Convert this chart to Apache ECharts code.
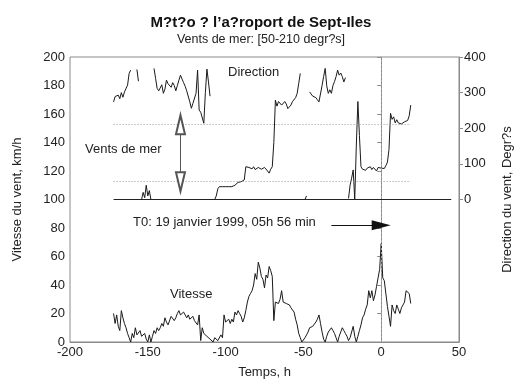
<!DOCTYPE html>
<html>
<head>
<meta charset="utf-8">
<script src="https://cdn.jsdelivr.net/npm/echarts@6/dist/echarts.min.js"></script>
<style>
  html, body { margin: 0; padding: 0; background: #fff; }
  #main { width: 522px; height: 387px; }
</style>
</head>
<body>
<div id="main"></div>
<script>
// heures relatives a T0, un point par heure de -172 h a +19 h
var startHour = -172;

// vitesse du vent, km/h
var speed = [
  20, 13, 19, 11, 8, 22, 17, 13, 10, 6,
  3, 0, 6, 3, 10, 5, 6, 8, 4, 5,
  6, 2, 0, 5, 0, 4, 8, 6, 10, 8,
  10, 13, 11, 17, 14, 12, 13, 18, 19, 15,
  17, 20, 22, 19, 18, 21, 20, 17, 19, 16,
  17, 18, 15, 14, 12, 19, 1, 10, 6, 7,
  4, 5, 2, 3, 0, 3, 4, 1, 2, 5,
  3, 19, 14, 15, 16, 13, 16, 14, 21, 19,
  22, 20, 18, 14, 17, 22, 28, 32, 34, 36,
  40, 48, 44, 56, 52, 46, 44, 38, 47, 45,
  53, 50, 46, 15, 28, 27, 27, 30, 36, 28,
  29, 27, 27, 26, 24, 23, 21, 16, 12, 6,
  3, 0, 1, 3, 5, 7, 10, 9, 11, 12,
  14, 16, 19, 13, 7, 2, 0, 4, 7, 8,
  10, 8, 6, 3, 0, 4, 7, 10, 8, 6,
  4, 1, 3, 7, 11, 4, 0, 4, 8, 12,
  17, 19, 23, 26, 36, 31, 36, 29, 33, 39,
  45, 51, 69, 45, 43, 42, 25, 18, 11, 26,
  22, 20, 26, 23, 20, 24, 24, 28, 36, 37,
  34, 27
];

// direction du vent, degres (null = trou dans la courbe)
var direction = [
  274, 289, 285, 293, 283, 300, 287, 302, 307, 321,
  354, 363, null, null, null, 365, 332, null, 0, 20,
  5, 40, 10, 25, 0, null, 368, 340, 312, 305,
  300, 322, 298, 310, 335, 325, 320, 315, 328, 320,
  305, 320, 335, 349, 338, 328, 318, 305, 300, 274,
  256, 270, 265, 298, 363, 251, 245, 242, 214, 300,
  366, 330, 290, null, null, 0, 10, 30, 36, 36,
  36, 36, 36, 36, 36, 36, 36, 36, 40, 45,
  48, 50, 50, 52, 55, 92, 88, 90, 92, 86,
  92, 84, 83, 90, 92, 85, 83, 90, 88, 80,
  74, 85, 92, 160, 279, 262, 275, 270, 265, 270,
  275, 268, 255, 251, 265, 275, 280, 286, 298, 326,
  354, null, null, 0, 10, null, 302, 296, 290, 288,
  286, 280, 274, 278, 320, 345, 368, 319, 298, 308,
  298, 320, 331, 345, 363, 349, 355, 345, 330, 342,
  null, 3, 40, 60, 83, 0, 150, 275, 180, 92,
  85, 90, 82, 88, 85, 92, 84, 90, 88, 80,
  90, 85, 88, 92, 87, 95, 105, 140, 242, 225,
  232, 215, 224, 215, 215, 212, 208, 218, 215, 222,
  235, 265
];

var seaWind = [50, 210];          // bornes des vents de mer, degres
var dirTicks = [0, 100, 200, 300, 400];
var t0Speed = 82;                 // hauteur de la fleche T0
var arrowHour = -129;             // position de la double fleche

var speedData = [], dirData = [];
for (var i = 0; i < speed.length; i++) {
  speedData.push([startHour + i, speed[i]]);
  dirData.push([startHour + i, direction[i]]);
}
var lastHour = startHour + speed.length - 1;

var font = 'Liberation Sans';
var axisGrey = '#8a8a8a';
var lineCol = '#1a1a1a';
var dots = { color: '#9a9a9a', type: [1, 2], width: 1 };

var myChart = echarts.init(document.getElementById('main'));
var option = {
  animation: false,
  textStyle: { fontFamily: font },
  title: {
    text: 'M?t?o ? l\u2019a?roport de Sept-Iles',
    subtext: 'Vents de mer: [50-210 degr?s]',
    left: 'center',
    top: 10,
    itemGap: 3,
    textStyle: { fontFamily: font, fontSize: 15, fontWeight: 'bold', color: '#111' },
    subtextStyle: { fontFamily: font, fontSize: 12.5, color: '#222' }
  },
  grid: {
    left: 70, right: 62, top: 57, bottom: 45,
    show: true, borderColor: axisGrey, borderWidth: 1
  },
  xAxis: {
    type: 'value',
    min: -200, max: 50, interval: 50,
    name: 'Temps, h',
    nameLocation: 'middle',
    nameGap: 24,
    nameTextStyle: { fontSize: 13, color: '#222' },
    axisLine: { lineStyle: { color: axisGrey } },
    axisTick: { show: false },
    axisLabel: { fontSize: 13, color: '#222', margin: 4 },
    splitLine: { show: false }
  },
  yAxis: [{
    type: 'value',
    min: 0, max: 200, interval: 20,
    name: 'Vitesse du vent, km/h',
    nameLocation: 'middle',
    nameGap: 46,
    nameTextStyle: { fontSize: 13, color: '#222' },
    axisLine: { show: true, lineStyle: { color: axisGrey } },
    axisTick: { show: true, length: 4, lineStyle: { color: axisGrey } },
    axisLabel: { fontSize: 13, color: '#222', margin: 5 },
    splitLine: { show: false }
  }, {
    type: 'value',
    position: 'right',
    min: -400, max: 400, interval: 100,
    name: 'Direction du vent, Degr?s',
    nameLocation: 'middle',
    nameGap: 42,
    nameRotate: 90,
    nameTextStyle: { fontSize: 13, color: '#222' },
    axisLine: { show: true, lineStyle: { color: axisGrey } },
    axisTick: { show: true, length: 4, customValues: dirTicks, lineStyle: { color: axisGrey } },
    axisLabel: { fontSize: 13, color: '#222', margin: 5, customValues: dirTicks },
    splitLine: { show: false }
  }],
  series: [{
    name: 'Vitesse',
    type: 'line',
    data: speedData,
    showSymbol: false,
    symbol: 'none',
    lineStyle: { color: lineCol, width: 1 },
    silent: true,
    markLine: {
      silent: true,
      symbol: ['none', 'none'],
      label: { show: false },
      data: [
        [{ coord: [0.3, 0], lineStyle: { color: '#a0a0a0', type: [2, 2], width: 1 } }, { coord: [0.3, 200] }],
        [{ coord: [-32, t0Speed], lineStyle: { color: '#111', type: 'solid', width: 1 } },
         { coord: [0, t0Speed], symbol: 'triangle', symbolSize: [10, 19] }]
      ]
    }
  }, {
    name: 'Direction',
    type: 'line',
    yAxisIndex: 1,
    data: dirData,
    connectNulls: false,
    showSymbol: false,
    symbol: 'none',
    lineStyle: { color: lineCol, width: 1 },
    silent: true,
    markLine: {
      silent: true,
      symbol: ['none', 'none'],
      label: { show: false },
      data: [
        [{ coord: [startHour, 0], lineStyle: { color: '#222', type: 'solid', width: 1 } }, { coord: [45, 0] }],
        [{ coord: [startHour, seaWind[0]], lineStyle: dots }, { coord: [lastHour, seaWind[0]] }],
        [{ coord: [startHour, seaWind[1]], lineStyle: dots }, { coord: [lastHour, seaWind[1]] }],
        [{ coord: [arrowHour, seaWind[0]], symbol: 'emptyTriangle', symbolSize: [9, 19], lineStyle: { color: '#555', type: 'solid', width: 1 } },
         { coord: [arrowHour, seaWind[1]], symbol: 'emptyTriangle', symbolSize: [9, 19] }]
      ]
    }
  }],
  graphic: [
    { type: 'text', left: 228, top: 66, style: { text: 'Direction', font: '13px "Liberation Sans"', fill: '#222' } },
    { type: 'text', left: 85, top: 143, style: { text: 'Vents de mer', font: '13px "Liberation Sans"', fill: '#222' } },
    { type: 'text', left: 170, top: 288, style: { text: 'Vitesse', font: '13px "Liberation Sans"', fill: '#222' } },
    { type: 'text', left: 133, top: 216, style: { text: 'T0: 19 janvier 1999, 05h 56 min', font: '13px "Liberation Sans"', fill: '#222' } }
  ]
};
myChart.setOption(option);
window.onresize = function() {
  myChart.resize();
};
</script>
</body>
</html>
